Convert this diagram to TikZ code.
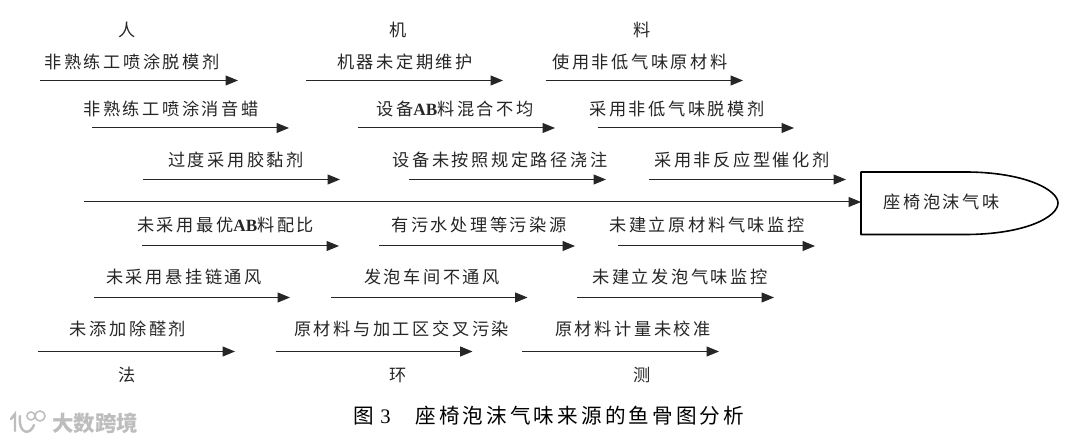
\documentclass[tikz,border=0pt]{standalone}
\usepackage{fontspec}
\usetikzlibrary{arrows.meta}
\setmainfont{Noto Sans CJK SC}[LetterSpace=15]
\newfontfamily\latinf{Liberation Serif}
\newcommand{\AB}{{\latinf\bfseries AB}}
\definecolor{ink}{HTML}{262626}
\tikzset{
  x=1pt,y=-1pt,
  bone/.style={draw=ink,line width=1pt,-{Triangle[length=12.5pt,width=10pt]}},
  lbl/.style={text=ink,font=\fontsize{17.2}{19}\selectfont,inner sep=0pt},
  captext/.style={text=black,font=\fontsize{20.6}{24}\selectfont,inner sep=0pt},
  wm/.style={text=black!26,font=\fontsize{21.5}{23}\selectfont\bfseries\addfontfeatures{LetterSpace=0},inner sep=0pt},
  wmline/.style={draw=black!26,line width=2.4pt,line cap=round}
}
% #1 name, #2 x start, #3 x end, #4 y, #5 label, #6 label x, #7 label y
\newcommand{\bonearrow}[7]{%
  \coordinate (#1s) at (#2,#4);
  \coordinate (#1e) at (#3,#4);
  \draw[bone] (#1s) -- (#1e);
  \node[lbl] (#1t) at (#6,#7) {#5};
}
\begin{document}
\begin{tikzpicture}
\useasboundingbox (0,0) rectangle (1080,443);
\fill[white] (0,0) rectangle (1080,443);
% category labels
\node[lbl] (ren) at (127,30) {人};
\node[lbl] (ji) at (398,30) {机};
\node[lbl] (liao) at (642,30) {料};
\node[lbl] (fa) at (127,375) {法};
\node[lbl] (huan) at (398,375) {环};
\node[lbl] (ce) at (642,375) {测};
% row 1
\bonearrow{a1}{40}{238}{80.5}{非熟练工喷涂脱模剂}{132}{62}
\bonearrow{a2}{306}{503}{80.5}{机器未定期维护}{405}{62}
\bonearrow{a3}{545.5}{743}{80.5}{使用非低气味原材料}{640}{62}
% row 2
\bonearrow{b1}{92}{289}{128}{非熟练工喷涂消音蜡}{171}{108.5}
\bonearrow{b2}{358}{555}{128}{设备\AB 料混合不均}{455}{108.5}
\bonearrow{b3}{597.5}{794}{128}{采用非低气味脱模剂}{677}{108.5}
% row 3
\bonearrow{c1}{143}{340}{179.5}{过度采用胶黏剂}{236}{159.5}
\bonearrow{c2}{409}{606}{179.5}{设备未按照规定路径浇注}{500}{159.5}
\bonearrow{c3}{649}{846}{179.5}{采用非反应型催化剂}{742}{159.5}
% row 4
\bonearrow{d1}{142}{339}{246}{未采用最优\AB 料配比}{225.5}{225}
\bonearrow{d2}{379}{575}{246}{有污水处理等污染源}{479}{225}
\bonearrow{d3}{618}{815}{246}{未建立原材料气味监控}{707}{225}
% row 5
\bonearrow{e1}{94}{290}{297.5}{未采用悬挂链通风}{184}{276.5}
\bonearrow{e2}{331}{527.5}{297.5}{发泡车间不通风}{432}{276.5}
\bonearrow{e3}{577}{774}{297.5}{未建立发泡气味监控}{680}{276.5}
% row 6
\bonearrow{f1}{38}{235}{351.5}{未添加除醛剂}{128}{328.5}
\bonearrow{f2}{275.5}{472.5}{351.5}{原材料与加工区交叉污染}{401.5}{328.5}
\bonearrow{f3}{522}{719}{351.5}{原材料计量未校准}{633}{328.5}
% head
\coordinate (spines) at (84,202);
\coordinate (boxw) at (861,202);
\draw[bone] (spines) -- (boxw);
\draw[draw=black,line width=1.6pt,line join=round] (861,172) -- (965,172)
  .. controls (1025,172) and (1058,190) .. (1058,203)
  .. controls (1058,217) and (1025,234.5) .. (965,234.5)
  -- (861,234.5) -- cycle;
\node[lbl] (head) at (941.5,202) {座椅泡沫气味};
% caption
\node[captext,anchor=west] (caption) at (353.5,415.5) {图\hspace{0.3em}{\latinf 3}\hspace{1.2em}座椅泡沫气味来源的鱼骨图分析};
% watermark
\node[wm,anchor=west] (mark) at (52,423) {大数跨境};
\draw[wmline] (11,419) -- (15,414) -- (15,431);
\draw[wmline] (34,425) .. controls (30,436) and (18,434) .. (20,416);
\draw[draw=black!26,line width=1.5pt] (31,416) circle (4);
\draw[draw=black!26,line width=1.5pt] (40,416) circle (5);
\end{tikzpicture}
\end{document}
